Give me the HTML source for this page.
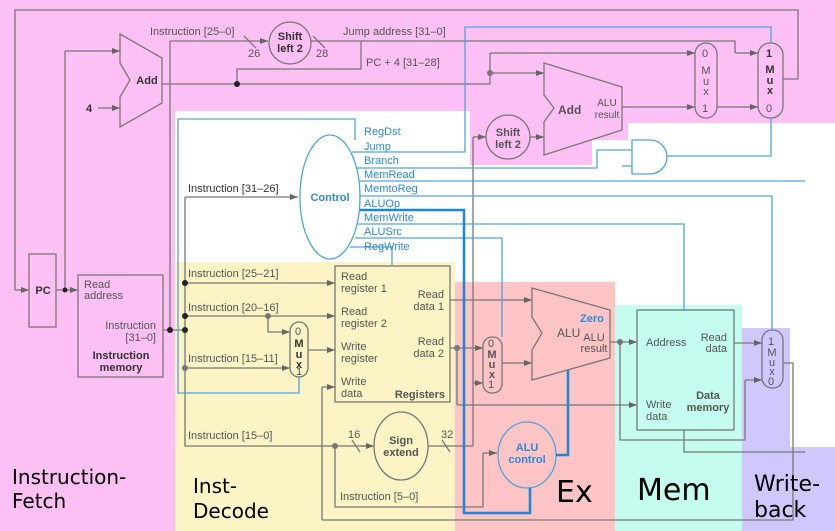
<!DOCTYPE html>
<html><head><meta charset="utf-8"><style>
html,body{margin:0;padding:0;background:#fff}
svg{display:block}
text{font-family:"Liberation Sans",sans-serif}
.s{font-size:11px;fill:#555}
.b{font-size:11px;fill:#333;font-weight:bold}
.c{font-size:11px;fill:#2a8ad8}
.big{font-size:20px;fill:#000;font-family:"DejaVu Sans",sans-serif}
</style></head><body>
<svg width="835" height="531" viewBox="0 0 835 531" xmlns="http://www.w3.org/2000/svg">
<defs>
<marker id="a" markerWidth="8" markerHeight="6" refX="8" refY="3" orient="auto" markerUnits="userSpaceOnUse"><path d="M0,0L8,3L0,6z" fill="#666"/></marker>
</defs>
<rect x="0" y="0" width="835" height="531" fill="#fff"/>
<rect x="0" y="0" width="175" height="531" fill="#fcc0f4"/>
<rect x="0" y="0" width="835" height="111" fill="#fcc0f4"/>
<rect x="470" y="0" width="122" height="165" fill="#fcc0f4"/>
<rect x="592" y="0" width="36" height="140" fill="#fcc0f4"/>
<rect x="628" y="0" width="207" height="123" fill="#fcc0f4"/>
<rect x="175" y="262" width="280" height="269" fill="#fcf4c4"/>
<rect x="455" y="282" width="160" height="249" fill="#fcc4c4"/>
<rect x="615" y="305" width="127" height="226" fill="#c4fcf0"/>
<rect x="742" y="328" width="48" height="120" fill="#d0c8fc"/>
<rect x="742" y="447" width="93" height="84" fill="#d0c8fc"/>

<g fill="none" stroke="#777" stroke-width="1.3">
<polyline points="783,79 798,79 798,10 15,10 15,290" /><line x1="15" y1="290" x2="29" y2="290" marker-end="url(#a)"/>
<rect x="29" y="254" width="27" height="73"/>
<line x1="56" y1="290" x2="78" y2="290" marker-end="url(#a)"/>
<polyline points="65,290 65,51"/><line x1="65" y1="51" x2="120" y2="51" marker-end="url(#a)"/>
<line x1="98" y1="108" x2="120" y2="108" marker-end="url(#a)"/>
<polygon points="120,34 162,58 162,103 120,127 120,97 130,80 120,63"/>
<rect x="78" y="275" width="85" height="102"/>
<polyline points="162,84 490,84 490,53"/><line x1="490" y1="53" x2="695" y2="53" marker-end="url(#a)"/>
<line x1="490" y1="73" x2="544" y2="73" marker-end="url(#a)"/>
<polyline points="237,84 237,69 361,69 361,41"/>
<polyline points="163,330 185,330"/>
<polyline points="170,330 170,41"/><line x1="170" y1="41" x2="268" y2="41" marker-end="url(#a)"/>
<line x1="244" y1="36" x2="256" y2="48"/><line x1="313" y1="36" x2="325" y2="48"/>
<circle cx="290" cy="43" r="21"/>
<polyline points="311,41 735,41 735,53"/><line x1="735" y1="53" x2="758" y2="53" marker-end="url(#a)"/>
<rect x="758" y="43" width="25" height="75" rx="12"/>
<rect x="695" y="43" width="22" height="75" rx="11"/>
<line x1="622" y1="107" x2="695" y2="107" marker-end="url(#a)"/>
<line x1="717" y1="107" x2="758" y2="107" marker-end="url(#a)"/>
<polygon points="544,63 622,87 622,130 544,155 544,122 554,108 544,95"/>
<circle cx="508" cy="137" r="22"/>
<line x1="530" y1="137" x2="544" y2="137" marker-end="url(#a)"/>
<line x1="473" y1="137" x2="486" y2="137" marker-end="url(#a)"/>
<polyline points="473,137 473,446"/>
<line x1="185" y1="197" x2="298" y2="197" marker-end="url(#a)"/>
<polyline points="185,197 185,446 372,446"/>
<line x1="185" y1="283" x2="335" y2="283" marker-end="url(#a)"/>
<line x1="185" y1="316" x2="335" y2="316" marker-end="url(#a)"/>
<polyline points="268,316 268,332"/><line x1="268" y1="332" x2="290" y2="332" marker-end="url(#a)"/>
<line x1="185" y1="368" x2="290" y2="368" marker-end="url(#a)"/>
<rect x="290" y="322" width="18" height="55" rx="9"/>
<line x1="308" y1="350" x2="335" y2="350" marker-end="url(#a)"/>
<rect x="335" y="266" width="115" height="136"/>
<polyline points="322,520 793,520 793,363 783,363"/>
<polyline points="322,520 322,387"/><line x1="322" y1="387" x2="335" y2="387" marker-end="url(#a)"/>
<line x1="352" y1="440" x2="360" y2="452"/>
<line x1="360" y1="446" x2="374" y2="446" marker-end="url(#a)"/>
<ellipse cx="401" cy="446" rx="27" ry="34"/>
<polyline points="428,446 473,446"/><line x1="442" y1="440" x2="450" y2="452"/>
<polyline points="335,446 335,507 483,507 483,453"/><line x1="483" y1="453" x2="497" y2="453" marker-end="url(#a)"/>
<line x1="473" y1="383" x2="483" y2="383" marker-end="url(#a)"/>
<line x1="450" y1="300" x2="532" y2="300" marker-end="url(#a)"/>
<line x1="450" y1="348" x2="483" y2="348" marker-end="url(#a)"/>
<polyline points="457,348 457,405"/><line x1="457" y1="405" x2="637" y2="405" marker-end="url(#a)"/>
<rect x="483" y="337" width="19" height="56" rx="9"/>
<line x1="502" y1="363" x2="532" y2="363" marker-end="url(#a)"/>
<polygon points="532,288 610,310 610,358 532,380 532,350 542,333 532,317"/>
<line x1="610" y1="342" x2="637" y2="342" marker-end="url(#a)"/>
<polyline points="620,342 620,440 745,440 745,380"/><line x1="745" y1="380" x2="762" y2="380" marker-end="url(#a)"/>
<rect x="637" y="310" width="97" height="120"/>
<line x1="734" y1="343" x2="762" y2="343" marker-end="url(#a)"/>
<rect x="762" y="330" width="21" height="58" rx="10"/>
<polyline points="684,430 684,452 805,452"/>
</g>
<g fill="#222"><circle cx="65" cy="290" r="2.5"/><circle cx="237" cy="84" r="3"/><circle cx="170" cy="330" r="3"/><circle cx="185" cy="330" r="3"/><circle cx="185" cy="283" r="3"/><circle cx="185" cy="316" r="3"/></g>
<g fill="#777"><circle cx="490" cy="73" r="3"/><circle cx="185" cy="368" r="3"/><circle cx="268" cy="316" r="3"/><circle cx="457" cy="348" r="3"/><circle cx="335" cy="446" r="3"/><circle cx="620" cy="342" r="3"/></g>

<g fill="none" stroke="#4aa6e0" stroke-width="1.3">
<polyline points="355,140 355,119 178,119 178,393 299,393 299,377"/>
<ellipse cx="330" cy="197" rx="30" ry="62"/>
<polyline points="352,152 465,152 465,27 771,27 771,43"/>
<polyline points="356,168 597,168 597,150 632,150"/>
<path d="M632,140 L650,140 A17,17 0 0 1 650,174 L632,174 Z"/>
<polyline points="667,156 771,156 771,118"/>
<polyline points="622,166 632,166 M622,166 622,318 612,318"/>
<line x1="359" y1="181" x2="805" y2="181"/>
<polyline points="360,196 772,196 772,330"/>
<polyline points="358,224 684,224 684,310"/>
<polyline points="355,238 502,238 502,337"/>
<polyline points="350,247 392,247 392,266"/>
<ellipse cx="527" cy="455" rx="29" ry="33"/>
</g>
<g fill="none" stroke="#1a86d8" stroke-width="2.5">
<polyline points="360,210 464,210 464,513 530,513 530,488"/>
<polyline points="556,455 568,455 568,370"/>
</g>

<text class="b" x="43" y="294" text-anchor="middle">PC</text>
<text class="b" x="147" y="84" text-anchor="middle">Add</text>
<text class="b" x="86" y="112">4</text>
<text class="s" x="84" y="288">Read</text><text class="s" x="84" y="299">address</text>
<text class="s" x="156" y="329" text-anchor="end">Instruction</text><text class="s" x="156" y="341" text-anchor="end">[31–0]</text>
<text class="b" x="121" y="359" text-anchor="middle">Instruction</text><text class="b" x="121" y="371" text-anchor="middle">memory</text>
<text class="s" x="150" y="35">Instruction [25–0]</text>
<text class="b" x="290" y="40" text-anchor="middle">Shift</text><text class="b" x="290" y="52" text-anchor="middle">left 2</text>
<text class="s" x="248" y="57">26</text><text class="s" x="316" y="57">28</text>
<text class="s" x="343" y="35">Jump address [31–0]</text>
<text class="s" x="366" y="66">PC + 4 [31–28]</text>
<text class="b" x="766" y="57">1</text><text class="b" x="770" y="73" text-anchor="middle">M</text><text class="b" x="770" y="84" text-anchor="middle">u</text><text class="b" x="770" y="94" text-anchor="middle">x</text><text class="s" x="766" y="112">0</text>
<text class="s" x="702" y="57">0</text><text class="s" x="706" y="74" text-anchor="middle">M</text><text class="s" x="706" y="85" text-anchor="middle">u</text><text class="s" x="706" y="95" text-anchor="middle">x</text><text class="s" x="702" y="112">1</text>
<text class="s" x="558" y="114" style="font-weight:bold;font-size:12px">Add</text>
<text class="s" x="607" y="106" text-anchor="middle" style="font-size:10px">ALU</text><text class="s" x="607" y="118" text-anchor="middle" style="font-size:10px">result</text>
<text class="s" x="508" y="136" text-anchor="middle" style="font-weight:bold">Shift</text><text class="s" x="508" y="148" text-anchor="middle" style="font-weight:bold">left 2</text>
<text class="c" x="364" y="135">RegDst</text><text class="c" x="364" y="150">Jump</text><text class="c" x="364" y="164">Branch</text><text class="c" x="364" y="178">MemRead</text><text class="c" x="364" y="192">MemtoReg</text><text class="c" x="364" y="207">ALUOp</text><text class="c" x="364" y="221">MemWrite</text><text class="c" x="364" y="235">ALUSrc</text><text class="c" x="364" y="250">RegWrite</text>
<text class="c" x="330" y="201" text-anchor="middle" style="font-weight:bold">Control</text>
<text class="b" x="188" y="192" style="font-weight:normal">Instruction [31–26]</text>
<text class="s" x="188" y="277">Instruction [25–21]</text>
<text class="s" x="188" y="311">Instruction [20–16]</text>
<text class="s" x="188" y="362">Instruction [15–11]</text>
<text class="s" x="188" y="439">Instruction [15–0]</text>
<text class="s" x="340" y="500">Instruction [5–0]</text>
<text class="s" x="295" y="335">0</text><text class="b" x="299" y="347" text-anchor="middle">M</text><text class="b" x="299" y="358" text-anchor="middle">u</text><text class="b" x="299" y="368" text-anchor="middle">x</text><text class="s" x="296" y="375">1</text>
<text class="s" x="341" y="280">Read</text><text class="s" x="341" y="292">register 1</text>
<text class="s" x="341" y="315">Read</text><text class="s" x="341" y="327">register 2</text>
<text class="s" x="341" y="350">Write</text><text class="s" x="341" y="362">register</text>
<text class="s" x="341" y="385">Write</text><text class="s" x="341" y="397">data</text>
<text class="s" x="444" y="298" text-anchor="end">Read</text><text class="s" x="444" y="310" text-anchor="end">data 1</text>
<text class="s" x="444" y="345" text-anchor="end">Read</text><text class="s" x="444" y="357" text-anchor="end">data 2</text>
<text class="b" x="445" y="398" text-anchor="end" style="fill:#555">Registers</text>
<text class="b" x="401" y="444" text-anchor="middle" style="fill:#555">Sign</text><text class="b" x="401" y="456" text-anchor="middle" style="fill:#555">extend</text>
<text class="s" x="348" y="438">16</text><text class="s" x="441" y="438">32</text>
<text class="s" x="488" y="347">0</text><text class="b" x="492" y="358" text-anchor="middle" style="fill:#555">M</text><text class="b" x="492" y="368" text-anchor="middle" style="fill:#555">u</text><text class="b" x="492" y="378" text-anchor="middle" style="fill:#555">x</text><text class="s" x="488" y="388">1</text>
<text class="s" x="557" y="337" style="font-size:12px">ALU</text>
<text class="c" x="580" y="322" style="font-weight:bold">Zero</text>
<text class="s" x="594" y="341" text-anchor="middle">ALU</text><text class="s" x="594" y="352" text-anchor="middle">result</text>
<text class="c" x="527" y="451" text-anchor="middle" style="font-weight:bold">ALU</text><text class="c" x="527" y="463" text-anchor="middle" style="font-weight:bold">control</text>
<text class="s" x="646" y="346">Address</text>
<text class="s" x="727" y="341" text-anchor="end">Read</text><text class="s" x="727" y="352" text-anchor="end">data</text>
<text class="s" x="646" y="408">Write</text><text class="s" x="646" y="420">data</text>
<text class="b" x="708" y="399" text-anchor="middle" style="fill:#555">Data</text><text class="b" x="708" y="411" text-anchor="middle" style="fill:#555">memory</text>
<text class="s" x="768" y="345">1</text><text class="s" x="772" y="356" text-anchor="middle">M</text><text class="s" x="772" y="366" text-anchor="middle">u</text><text class="s" x="772" y="375" text-anchor="middle">x</text><text class="s" x="768" y="385">0</text>
<text class="big" x="12" y="484">Instruction-</text><text class="big" x="12" y="508">Fetch</text>
<text class="big" x="193" y="493">Inst-</text><text class="big" x="193" y="518">Decode</text>
<text class="big" x="556" y="502" style="font-size:30px">Ex</text>
<text class="big" x="637" y="500" style="font-size:30px">Mem</text>
<text class="big" x="754" y="491" style="font-size:22px">Write-</text><text class="big" x="754" y="517" style="font-size:22px">back</text>
</svg>
</body></html>
